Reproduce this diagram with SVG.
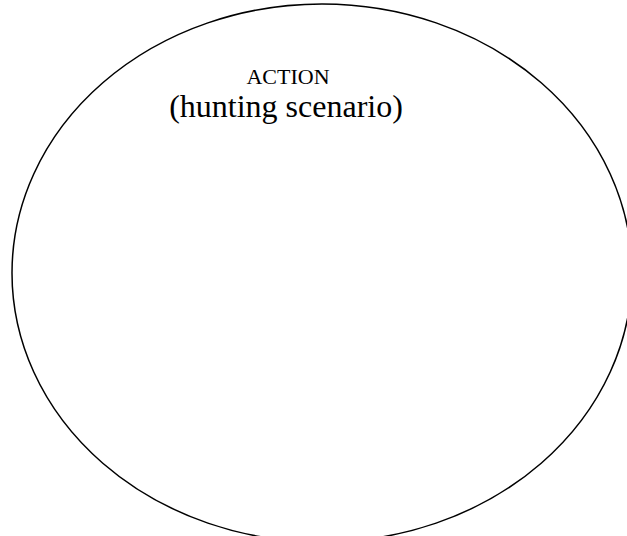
<svg xmlns="http://www.w3.org/2000/svg" width="627" height="536" viewBox="0 0 627 536">
<style>
.t{font-family:"Liberation Serif","Times New Roman",serif;fill:#000;text-anchor:middle}
</style>
<rect width="627" height="536" fill="#fff"/>
<g id="action">
<ellipse cx="322" cy="273" rx="310" ry="269" fill="none" stroke="#000" stroke-width="1.5"/>
<text class="t" x="288" y="84" font-size="22">ACTION</text>
<text class="t" x="286" y="117" font-size="32">(hunting scenario)</text>
</g>
</svg>
